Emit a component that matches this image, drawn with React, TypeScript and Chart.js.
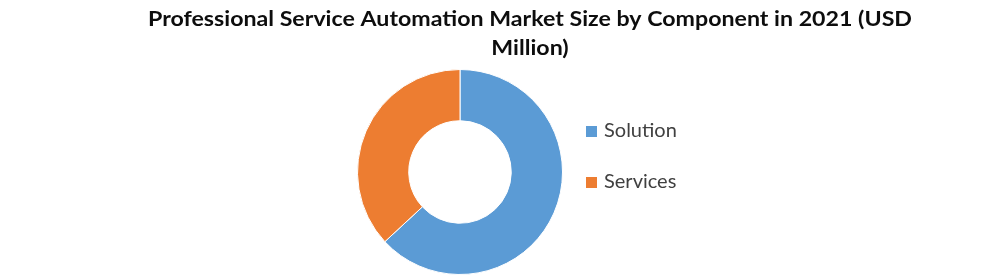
import React, { useEffect, useRef } from "react";
import { Chart, registerables } from "chart.js";

Chart.register(...registerables);

const categories: string[] = ["Solution", "Services"];
const values: number[] = [63.1, 36.9];
const colors: string[] = ["#5B9BD5", "#ED7D31"];
const titleLines: string[] = [
  "Professional Service Automation Market Size by Component in 2021 (USD",
  "Million)",
];

const overlayPlugin = {
  id: "overlay",
  afterDraw(chart: any) {
    const ctx = chart.ctx as CanvasRenderingContext2D;
    ctx.save();
    // Title
    ctx.fillStyle = "#0d0d0d";
    ctx.textBaseline = "alphabetic";
    ctx.textAlign = "left";
    ctx.font = "bold 21px Lato, 'Open Sans', sans-serif";
    const targetW = 764;
    const w0 = ctx.measureText(titleLines[0]).width;
    const sx = targetW / w0;
    const cx = 530;
    const baselines = [26, 55];
    titleLines.forEach((line, i) => {
      const w = ctx.measureText(line).width * sx;
      ctx.save();
      ctx.translate(cx - w / 2, baselines[i]);
      ctx.scale(sx, 1);
      ctx.fillText(line, 0, 0);
      ctx.restore();
    });
    // Legend
    ctx.font = "20px Lato, 'Open Sans', sans-serif";
    ctx.fillStyle = "#404040";
    const legendY = [131, 182];
    categories.forEach((label, i) => {
      ctx.fillStyle = colors[i];
      ctx.fillRect(586, legendY[i] - 5, 11, 11);
      ctx.fillStyle = "#404040";
      ctx.textBaseline = "middle";
      ctx.fillText(label, 604, legendY[i]);
    });
    ctx.restore();
  },
};

export default function App() {
  const ref = useRef<HTMLCanvasElement>(null);
  useEffect(() => {
    if (!ref.current) return;
    const chart = new Chart(ref.current, {
      type: "doughnut",
      data: {
        labels: categories,
        datasets: [
          {
            data: values,
            backgroundColor: colors,
            borderColor: "#ffffff",
            borderWidth: 1,
          },
        ],
      },
      options: {
        responsive: false,
        animation: false,
        cutout: "50%",
        layout: { padding: { left: 356, right: 426, top: 69, bottom: 2 } },
        plugins: {
          legend: { display: false },
          title: { display: false },
          tooltip: { enabled: false },
        },
      },
      plugins: [overlayPlugin],
    });
    return () => chart.destroy();
  }, []);
  return (
    <div style={{ position: "fixed", left: 0, top: 0, width: 990, height: 277, background: "#fff" }}>
      <canvas ref={ref} width={990} height={277} />
    </div>
  );
}
